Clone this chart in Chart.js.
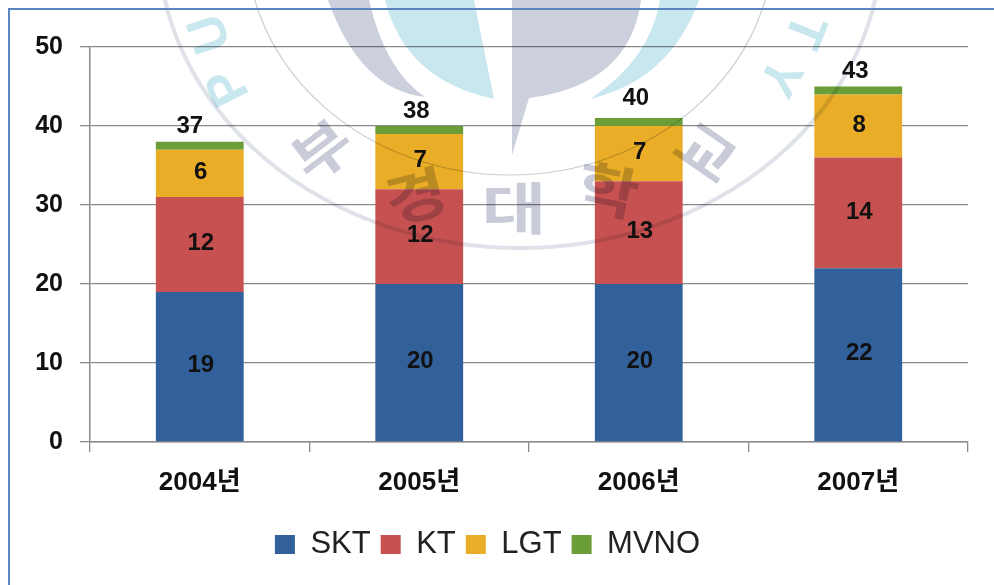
<!DOCTYPE html>
<html><head><meta charset="utf-8">
<script src="https://cdn.jsdelivr.net/npm/chart.js@4"></script>
<style>html,body{margin:0;padding:0;background:#fff}#w{position:relative;width:994px;height:585px;overflow:hidden}canvas{position:absolute;left:0;top:0}</style>
</head><body><div id="w"><canvas id="c" width="994" height="585"></canvas></div>
<script>
const categories=["2004년","2005년","2006년","2007년"];
const skt=[19,20,20,22];
const kt=[12,12,13,14];
const lgt=[6,7,7,8];
const mvno=[1,1,1,1];
const totalLabels=[37,38,40,43];
const fontFam='"Liberation Sans","Noto Sans CJK KR",sans-serif';
function letter(x,t,px,py,rot,sx,font){x.save();x.translate(px,py);x.rotate(rot);x.scale(sx,1);x.font=font;x.textAlign='center';x.textBaseline='middle';x.fillText(t,0,0);x.restore();}
const watermark={id:'watermark',afterDatasetsDraw(ch){
 const x=ch.ctx;x.save();
 x.beginPath();x.rect(0,0,994,585);x.clip();
 x.globalCompositeOperation='multiply';
 x.fillStyle='#c9e7ef';
 x.beginPath();x.moveTo(385,0);x.quadraticCurveTo(405,80,494,99);x.lineTo(474,0);x.closePath();x.fill();
 x.beginPath();x.moveTo(699,0);x.quadraticCurveTo(670,80,590,99);x.quadraticCurveTo(650,60,660,0);x.closePath();x.fill();
 x.fillStyle='#ccd0dc';
 x.beginPath();x.moveTo(328,0);x.quadraticCurveTo(360,90,425,97);x.quadraticCurveTo(385,70,369,0);x.closePath();x.fill();
 x.beginPath();x.moveTo(512,0);x.lineTo(641,0);x.quadraticCurveTo(630,85,529,98);x.lineTo(512,155);x.closePath();x.fill();
 x.strokeStyle='#dfe2e8';x.lineWidth=4;
 x.beginPath();x.ellipse(520,-60,362,308,0,0,Math.PI);x.stroke();
 x.strokeStyle='#c8ccd4';x.lineWidth=1.2;
 x.beginPath();x.ellipse(510,-60,264,235,0,0,Math.PI);x.stroke();
 x.fillStyle='#c9ccd8';
 const kf='bold 56px "Noto Sans CJK KR"';
 letter(x,'부',322,150,-0.65,1.15,kf);
 letter(x,'경',416,196,-0.25,1.2,kf);
 letter(x,'대',514,208,0,1.25,kf);
 letter(x,'학',608,190,0.2,1.2,kf);
 letter(x,'교',706,152,0.6,1.15,kf);
 x.fillStyle='#c9e7ef';
 const lf='bold 52px "Liberation Sans"';
 letter(x,'P',229,86,-2.04,1,lf);
 letter(x,'U',211,33,-1.9,1,lf);
 letter(x,'Y',778,76,2.08,1,lf);
 letter(x,'T',803,30,1.95,1,lf);
 x.restore();
}};
const frame={id:'frame',afterDraw(ch){
 const x=ch.ctx;x.save();x.strokeStyle='#5b85bd';x.lineWidth=2;
 x.beginPath();x.moveTo(9,585);x.lineTo(9,9);x.lineTo(994,9);x.stroke();x.restore();
}};
const labelsPlugin={id:'totals',afterDatasetsDraw(ch){
 const x=ch.ctx;x.save();
 x.fillStyle='#111';x.font='bold 24px '+fontFam;x.textAlign='center';x.textBaseline='middle';
 ch.data.datasets.slice(0,3).forEach((d,i)=>{ch.getDatasetMeta(i).data.forEach((b,j)=>{x.fillText(d.data[j],b.x+1,(b.y+b.base)/2-1);});});
 ch.getDatasetMeta(3).data.forEach((b,j)=>{x.fillText(totalLabels[j],b.x+(j===0?-10:-3),b.y-(j===2?20:15));});
 x.restore();
}};
new Chart(document.getElementById('c'),{type:'bar',
 data:{labels:categories,datasets:[
  {label:'SKT',data:skt,backgroundColor:'#31609b'},
  {label:'KT',data:kt,backgroundColor:'#c75150'},
  {label:'LGT',data:lgt,backgroundColor:'#eaad27'},
  {label:'MVNO',data:mvno,backgroundColor:'#6b9e38'}]},
 plugins:[watermark,labelsPlugin,frame],
 options:{responsive:false,animation:false,
  layout:{padding:{left:7,right:26,top:47,bottom:15}},
  datasets:{bar:{categoryPercentage:1,barPercentage:0.4}},
  plugins:{tooltip:{enabled:false},legend:{position:'bottom',labels:{boxWidth:20,boxHeight:19,padding:10,color:'#222',font:{family:fontFam,size:31}}}},
  scales:{
   x:{stacked:true,afterFit(s){s.height=77;},grid:{display:true,drawOnChartArea:false,drawTicks:true,tickLength:10,color:'#8a8a8a',lineWidth:1.3,offset:true},border:{color:'#8a8a8a',width:1.5},ticks:{color:'#111',font:{family:fontFam,size:26,weight:'bold'},padding:15,maxRotation:0}},
   y:{stacked:true,min:0,max:50,afterFit(s){s.width=83;},ticks:{stepSize:10,color:'#111',font:{family:fontFam,size:25,weight:'bold'},padding:17},grid:{color:'#8a8a8a',lineWidth:1.3,tickLength:10},border:{color:'#8a8a8a',width:1.5}}
  }}});
</script></body></html>
